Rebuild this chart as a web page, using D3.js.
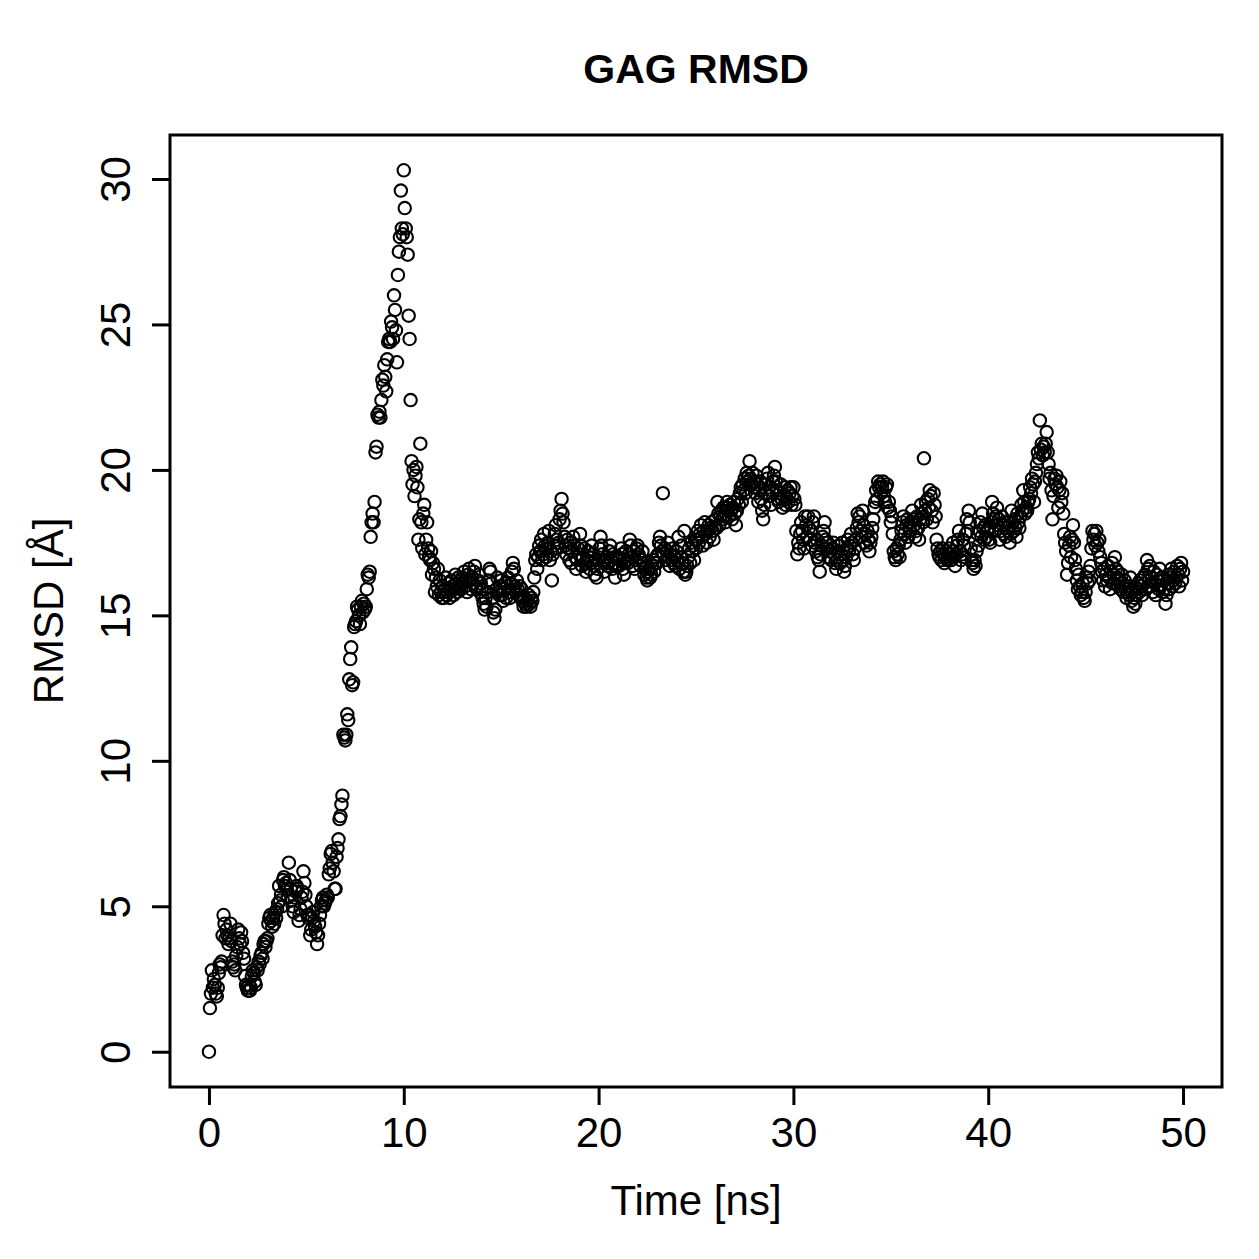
<!DOCTYPE html>
<html>
<head>
<meta charset="utf-8">
<script src="https://cdn.jsdelivr.net/npm/d3@7"></script>
<style>
  body { margin: 0; background: #fff; }
  text { font-family: "Liberation Sans", Arial, Helvetica, sans-serif; fill: #000; }
</style>
</head>
<body>
<div id="chart"></div>
<script>
// RMSD samples, one every 0.05 ns (one line per ns)
const timeStep = 0.05;
const rmsd = [
  0.0, 1.5, 2.0, 2.8, 2.2, 2.5, 2.3, 2.0, 1.9, 2.2, 2.7, 3.0, 2.9, 3.1, 4.0, 4.7, 4.4, 3.9, 4.2, 4.0,
  3.7, 3.9, 4.4, 3.8, 3.1, 2.9, 3.0, 2.8, 3.3, 3.6, 4.2, 3.9, 3.7, 4.1, 3.8, 3.4, 3.2, 2.6, 2.3, 2.2,
  2.1, 2.3, 2.1, 2.2, 2.6, 2.8, 2.7, 2.4, 2.3, 2.9, 2.8, 3.1, 3.0, 3.3, 3.4, 3.2, 3.7, 3.8, 3.6, 3.8,
  3.9, 4.4, 4.6, 4.7, 4.5, 4.3, 4.6, 4.4, 4.8, 4.6, 4.9, 5.1, 5.7, 5.2, 5.4, 5.0, 5.9, 6.0, 5.7, 5.8,
  5.6, 5.3, 6.5, 5.9, 5.6, 5.2, 5.0, 4.8, 5.3, 5.5, 5.7, 5.6, 4.5, 4.7, 4.9, 5.3, 5.5, 6.2, 5.8, 5.4,
  5.0, 4.7, 4.6, 4.7, 4.0, 4.2, 4.6, 4.8, 4.5, 4.3, 4.1, 3.7, 4.0, 4.4, 4.7, 5.0, 5.2, 5.3, 5.0, 5.1,
  5.2, 5.4, 5.3, 6.1, 6.3, 6.8, 6.9, 6.5, 6.2, 5.6, 5.6, 6.7, 7.0, 7.3, 8.0, 8.1, 8.5, 8.8, 10.9, 10.8,
  10.7, 10.9, 11.6, 11.4, 12.8, 13.5, 13.9, 12.6, 12.7, 14.6, 14.7, 14.8, 15.3, 15.2, 15.0, 14.7, 15.3, 15.5, 15.1, 15.4,
  15.2, 15.3, 15.9, 16.4, 16.3, 16.5, 17.7, 18.2, 18.5, 18.2, 18.9, 20.6, 20.8, 21.9, 21.8, 22.0, 21.8, 22.4, 23.1, 22.9,
  23.6, 23.2, 22.7, 23.8, 24.4, 24.5, 24.4, 25.1, 24.9, 24.5, 26.0, 25.5, 24.8, 23.7, 26.7, 27.5, 28.0, 29.6, 28.3, 28.1,
  30.3, 29.0, 28.3, 28.0, 27.4, 25.3, 24.5, 22.4, 20.3, 19.5, 20.0, 19.1, 19.8, 20.1, 19.4, 17.6, 18.3, 20.9, 18.2, 17.3,
  18.5, 18.8, 17.1, 17.6, 18.2, 17.3, 17.0, 16.9, 17.2, 16.4, 16.8, 16.6, 15.8, 16.3, 16.0, 16.6, 15.7, 16.2, 15.8, 15.6,
  16.0, 15.6, 15.9, 16.3, 15.7, 15.8, 16.1, 15.6, 15.9, 16.2, 16.0, 15.7, 15.9, 16.4, 16.1, 15.8, 16.3, 16.0, 16.2, 15.9,
  16.3, 16.1, 16.5, 16.0, 16.2, 15.8, 16.4, 16.6, 16.2, 15.9, 16.3, 16.1, 16.5, 16.7, 16.0, 15.9, 16.2, 16.4, 15.8, 16.1,
  15.9, 15.6, 15.4, 15.2, 15.6, 15.3, 15.8, 16.2, 16.6, 16.5, 16.1, 15.6, 15.1, 14.9, 15.2, 15.9, 16.3, 15.8, 15.7, 16.0,
  16.2, 15.7, 15.5, 15.9, 16.1, 15.6, 16.0, 16.3, 15.8, 15.6, 16.1, 16.5, 16.8, 16.6, 16.0, 15.8, 16.2, 15.9, 15.7, 16.0,
  15.6, 15.9, 15.5, 15.3, 15.6, 15.4, 15.3, 15.5, 15.7, 15.4, 15.3, 15.6, 15.5, 15.8, 16.3, 16.9, 17.1, 16.6, 17.0, 17.4,
  17.2, 17.6, 16.9, 17.1, 17.8, 17.4, 17.0, 17.3, 17.5, 17.9, 16.9, 17.2, 16.2, 17.1, 17.4, 17.8, 18.1, 17.6, 17.3, 17.5,
  18.3, 18.6, 19.0, 18.5, 18.2, 17.7, 17.4, 17.1, 17.6, 17.3, 16.9, 17.5, 16.8, 17.2, 17.7, 17.4, 17.0, 16.6, 16.9, 17.3,
  17.1, 17.8, 17.4, 16.7, 17.0, 17.3, 16.8, 16.5, 16.9, 17.2, 17.0, 16.6, 16.8, 17.4, 17.1, 16.7, 16.4, 16.9, 16.3, 16.6,
  16.9, 17.3, 17.7, 17.4, 17.1, 16.8, 16.5, 16.9, 17.0, 16.7, 16.8, 17.2, 17.4, 16.9, 16.6, 17.1, 16.8, 16.3, 16.7, 17.0,
  17.0, 16.7, 16.9, 17.3, 17.1, 16.6, 16.4, 16.8, 17.2, 16.9, 16.8, 17.1, 17.6, 17.4, 17.0, 16.7, 17.2, 16.6, 16.9, 17.3,
  17.4, 17.1, 17.0, 16.7, 16.9, 17.2, 16.8, 16.4, 16.6, 16.3, 16.2, 16.5, 16.6, 16.3, 16.4, 16.7, 16.9, 16.5, 16.8, 17.0,
  16.8, 17.1, 17.5, 17.7, 17.4, 17.2, 19.2, 17.1, 17.3, 16.9, 17.2, 17.5, 17.0, 16.7, 17.1, 16.9, 17.3, 16.8, 17.0, 16.7,
  17.2, 16.9, 17.7, 16.6, 17.0, 17.4, 16.8, 16.5, 17.9, 16.4, 16.5, 16.7, 17.0, 17.3, 16.8, 17.5, 17.2, 17.4, 16.9, 17.6,
  17.3, 17.6, 17.9, 17.5, 17.8, 18.1, 17.7, 17.4, 17.9, 18.2, 17.8, 17.5, 17.9, 18.1, 17.7, 18.0, 18.2, 17.9, 17.6, 18.0,
  18.3, 18.0, 18.9, 18.5, 18.1, 18.4, 18.6, 18.3, 18.7, 18.4, 18.2, 18.7, 18.9, 18.6, 18.4, 18.8, 18.6, 18.3, 18.7, 18.9,
  18.5, 18.1, 18.6, 19.0, 18.8, 19.2, 19.4, 18.9, 19.5, 19.3, 19.7, 19.2, 19.9, 19.6, 19.8, 20.3, 19.7, 19.5, 19.9, 19.4,
  19.6, 19.2, 19.8, 19.5, 18.9, 19.3, 19.6, 19.0, 18.6, 18.3, 18.8, 19.2, 19.5, 19.7, 19.9, 19.4, 19.1, 18.8, 19.3, 19.6,
  19.8, 20.1, 19.6, 19.3, 19.0, 18.9, 19.2, 19.5, 19.0, 18.7, 19.1, 19.4, 18.8, 19.0, 19.3, 18.9, 19.2, 19.4, 18.8, 19.1,
  19.4, 19.0, 18.8, 17.9, 17.1, 17.5, 17.3, 17.8, 18.2, 17.9, 17.6, 17.3, 18.4, 18.1, 17.7, 18.4, 18.0, 17.6, 17.9, 17.4,
  18.2, 18.4, 17.5, 17.2, 17.6, 17.0, 16.9, 16.5, 17.1, 17.4, 17.7, 17.9, 18.2, 17.6, 17.3, 17.5, 17.0, 17.2, 17.4, 16.9,
  17.3, 17.5, 17.1, 16.8, 16.6, 16.9, 17.2, 17.4, 16.8, 17.1, 17.5, 16.9, 16.5, 16.7, 17.0, 17.3, 17.6, 17.2, 17.4, 17.8,
  17.5, 17.1, 16.9, 17.3, 17.6, 18.0, 18.5, 18.2, 18.4, 17.9, 17.7, 18.6, 18.1, 17.5, 17.8, 17.4, 17.9, 17.6, 17.2, 17.5,
  17.7, 18.0, 18.3, 18.7, 18.9, 19.3, 19.0, 19.6, 19.4, 19.5, 19.2, 19.4, 19.6, 19.1, 18.9, 19.4, 19.5, 18.7, 18.9, 18.6,
  18.2, 18.4, 17.8, 17.2, 17.0, 16.9, 17.3, 17.1, 17.4, 17.0, 17.6, 17.9, 18.2, 18.4, 17.8, 17.5, 18.1, 18.3, 17.7, 18.0,
  17.9, 18.2, 18.6, 18.3, 18.1, 17.7, 17.9, 18.4, 18.0, 17.6, 18.3, 18.8, 18.5, 18.2, 20.4, 18.6, 18.9, 18.3, 19.0, 18.7,
  19.3, 19.1, 18.6, 18.2, 19.2, 18.8, 18.4, 17.6, 17.3, 17.1, 17.0, 17.2, 16.9, 17.3, 17.1, 16.8, 17.0, 17.2, 16.9, 17.1,
  17.3, 17.1, 16.9, 17.2, 17.5, 17.0, 16.7, 17.1, 17.4, 17.6, 17.9, 17.2, 16.9, 17.1, 17.6, 17.4, 17.0, 17.8, 18.3, 17.9,
  18.6, 18.2, 17.3, 16.9, 16.8, 16.6, 16.9, 16.7, 17.2, 17.8, 17.4, 17.9, 18.2, 17.7, 18.5, 18.0, 17.6, 18.1, 17.7, 17.9,
  18.0, 17.6, 17.5, 18.2, 18.9, 18.5, 18.3, 17.9, 18.4, 18.7, 18.1, 18.3, 17.6, 17.9, 18.4, 18.1, 17.8, 18.2, 17.7, 18.0,
  18.2, 17.9, 17.5, 17.8, 18.6, 18.2, 17.9, 18.3, 18.0, 17.7, 18.5, 18.2, 18.0, 18.4, 18.8, 18.6, 19.3, 18.9, 18.5, 18.7,
  18.6, 18.9, 19.0, 19.4, 19.2, 19.7, 19.5, 18.9, 19.6, 19.9, 20.2, 20.6, 20.4, 21.7, 20.7, 20.9, 20.5, 20.8, 20.6, 20.9,
  21.3, 20.6, 20.2, 19.7, 19.9, 19.3, 18.3, 19.1, 19.7, 19.5, 19.8, 19.4, 18.7, 19.3, 19.6, 18.9, 19.2, 18.5, 17.8, 17.5,
  17.2, 16.4, 16.8, 17.4, 17.7, 17.0, 17.6, 18.1, 17.5, 16.9, 16.6, 16.2, 15.9, 16.4, 16.0, 15.7, 15.8, 16.1, 15.6, 15.5,
  15.8, 16.3, 16.1, 16.5, 16.2, 16.7, 17.3, 17.9, 17.6, 17.8, 17.4, 17.9, 17.5, 17.2, 17.6, 17.0, 16.8, 16.5, 16.2, 16.6,
  16.0, 16.4, 16.2, 16.7, 16.3, 15.9, 16.5, 16.8, 16.1, 16.4, 17.0, 16.6, 16.3, 16.5, 16.0, 16.2, 15.9, 16.4, 16.1, 15.8,
  16.2, 15.9, 15.6, 15.8, 16.0, 15.7, 16.3, 15.5, 15.8, 15.3, 15.6, 15.4, 15.7, 15.9, 16.1, 15.8, 16.2, 16.0, 15.7, 16.3,
  16.1, 16.4, 15.9, 16.9, 16.6, 16.2, 16.7, 16.0, 16.3, 15.8, 16.5, 16.1, 15.7, 16.4, 16.2, 15.9, 16.6, 16.0, 16.3, 15.8,
  16.2, 15.9, 15.4, 15.7, 16.1, 16.4, 15.9, 16.3, 16.6, 16.0, 16.2, 16.5, 16.1, 16.3, 16.7, 16.4, 16.0, 16.6, 16.8, 16.2,
  16.5
];
const xTicks = [0, 10, 20, 30, 40, 50];
const yTicks = [0, 5, 10, 15, 20, 25, 30];

const titleText = 'GAG RMSD';
const xLabel = 'Time [ns]';
const yLabel = 'RMSD [Å]';

// layout (R base graphics look)
const W = 1259, H = 1259;
const box = { left: 170, right: 1222, top: 135, bottom: 1087 };

const points = rmsd.map((v, i) => ({ t: i * timeStep, v: v }));

// R style: pad the data range by 4% on each side
const tExt = d3.extent(points, d => d.t);
const vExt = d3.extent(points, d => d.v);
const tPad = (tExt[1] - tExt[0]) * 0.04;
const vPad = (vExt[1] - vExt[0]) * 0.04;

const x = d3.scaleLinear()
    .domain([tExt[0] - tPad, tExt[1] + tPad])
    .range([box.left, box.right]);
const y = d3.scaleLinear()
    .domain([vExt[0] - vPad, vExt[1] + vPad])
    .range([box.bottom, box.top]);

const svg = d3.select('#chart').append('svg')
    .attr('width', W)
    .attr('height', H);

svg.append('rect')
    .attr('width', W).attr('height', H)
    .attr('fill', '#fff');

// points (open circles, pch = 1)
svg.append('g')
    .selectAll('circle')
    .data(points)
    .join('circle')
    .attr('cx', d => x(d.t))
    .attr('cy', d => y(d.v))
    .attr('r', 6.2)
    .attr('fill', 'none')
    .attr('stroke', '#000')
    .attr('stroke-width', 2.1);

// plot frame
svg.append('rect')
    .attr('x', box.left)
    .attr('y', box.top)
    .attr('width', box.right - box.left)
    .attr('height', box.bottom - box.top)
    .attr('fill', 'none')
    .attr('stroke', '#000')
    .attr('stroke-width', 3);

// x axis
const xAxis = d3.axisBottom(x)
    .tickValues(xTicks)
    .tickSize(18)
    .tickPadding(12)
    .tickFormat(d3.format('d'));

const gx = svg.append('g')
    .attr('transform', `translate(0,${box.bottom})`)
    .call(xAxis);
gx.select('.domain').remove();
gx.selectAll('.tick line').attr('stroke', '#000').attr('stroke-width', 3);
gx.selectAll('.tick text')
    .attr('font-size', 42)
    .attr('font-family', '"Liberation Sans", Arial, sans-serif')
    .attr('fill', '#000');

// y axis, labels turned like R's default las = 0
const yAxis = d3.axisLeft(y)
    .tickValues(yTicks)
    .tickSize(18)
    .tickFormat(d3.format('d'));

const gy = svg.append('g')
    .attr('transform', `translate(${box.left},0)`)
    .call(yAxis);
gy.select('.domain').remove();
gy.selectAll('.tick line').attr('stroke', '#000').attr('stroke-width', 3);
gy.selectAll('.tick text')
    .attr('font-size', 42)
    .attr('font-family', '"Liberation Sans", Arial, sans-serif')
    .attr('fill', '#000')
    .attr('x', null)
    .attr('dy', null)
    .attr('text-anchor', 'middle')
    .attr('transform', `translate(${130 - box.left},0) rotate(-90)`);

// title and axis labels
svg.append('text')
    .attr('x', (box.left + box.right) / 2)
    .attr('y', 83)
    .attr('text-anchor', 'middle')
    .attr('font-size', 41)
    .attr('font-weight', 'bold')
    .text(titleText);

svg.append('text')
    .attr('x', (box.left + box.right) / 2)
    .attr('y', 1215)
    .attr('text-anchor', 'middle')
    .attr('font-size', 42)
    .text(xLabel);

svg.append('text')
    .attr('transform', `translate(63,${(box.top + box.bottom) / 2}) rotate(-90)`)
    .attr('text-anchor', 'middle')
    .attr('font-size', 42)
    .text(yLabel);
</script>
</body>
</html>
